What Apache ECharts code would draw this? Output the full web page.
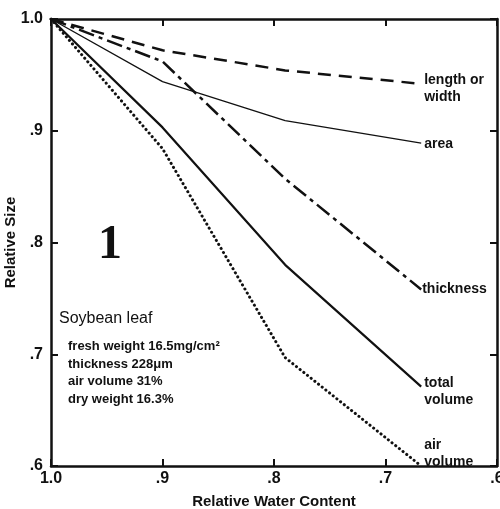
<!DOCTYPE html>
<html>
<head>
<meta charset="utf-8">
<script src="https://cdn.jsdelivr.net/npm/echarts@6/dist/echarts.min.js"></script>
<style>
  html, body { margin: 0; padding: 0; background: #fff; }
  #chart { width: 500px; height: 509px; }
</style>
</head>
<body>
<div id="chart"></div>
<script>
// ── Data ──────────────────────────────────────────────────────────────
const rwc         = [1.0, 0.9, 0.79, 0.668];   // relative water content
const lengthWidth = [1.0, 0.972, 0.954, 0.942];
const area        = [1.0, 0.944, 0.909, 0.889];
const thickness   = [1.0, 0.962, 0.857, 0.758];
const totalVolume = [1.0, 0.903, 0.780, 0.671];
const airVolume   = [1.0, 0.884, 0.697, 0.600];
const notes = ['fresh weight 16.5mg/cm\u00B2', 'thickness 228\u03BCm', 'air volume 31%', 'dry weight 16.3%'];

// ── Style ─────────────────────────────────────────────────────────────
const ink = '#111';
const font = '"Liberation Sans", Arial, sans-serif';
const tickFmt = (v) => (Math.abs(v - 1) < 1e-6 ? '1.0' : '.' + Math.round(v * 10));

const pairs = (ys) => ys.map((y, i) => [rwc[i], y]);

function curve(name, ys, lineStyle, labelOffset) {
  return {
    name, type: 'line', data: pairs(ys),
    symbol: 'none', silent: true,
    lineStyle: Object.assign({ color: ink }, lineStyle),
    endLabel: {
      show: true, formatter: name, distance: 3, offset: labelOffset,
      fontFamily: font, fontSize: 14, fontWeight: 'bold', color: ink,
      lineHeight: 17, align: 'left',
    },
  };
}

const chart = echarts.init(document.getElementById('chart'), null, { renderer: 'canvas' });

const axisBase = {
  type: 'value', min: 0.6, max: 1.0, interval: 0.1,
  axisLine: { show: true, lineStyle: { color: ink, width: 2.5 } },
  axisTick: { show: true, inside: true, length: 7, lineStyle: { color: ink, width: 2 } },
  splitLine: { show: false },
};

chart.setOption({
  animation: false,
  backgroundColor: '#fff',
  grid: { left: 51, right: 3, top: 19, bottom: 43, containLabel: false, outerBoundsMode: 'none' },
  xAxis: [
    Object.assign({}, axisBase, {
      inverse: true, position: 'bottom',
      name: 'Relative Water Content', nameLocation: 'middle', nameGap: 28, nameMoveOverlap: false,
      nameTextStyle: { fontFamily: font, fontSize: 15, fontWeight: 'bold', color: ink },
      axisLabel: { formatter: tickFmt, margin: 5, fontFamily: font, fontSize: 16, fontWeight: 'bold', color: ink },
    }),
    Object.assign({}, axisBase, { inverse: true, position: 'top', axisLabel: { show: false } }),
  ],
  yAxis: [
    Object.assign({}, axisBase, {
      position: 'left',
      name: 'Relative Size', nameLocation: 'middle', nameGap: 33, nameMoveOverlap: false,
      nameTextStyle: { fontFamily: font, fontSize: 15, fontWeight: 'bold', color: ink },
      axisLabel: { formatter: tickFmt, margin: 8, fontFamily: font, fontSize: 16, fontWeight: 'bold', color: ink },
    }),
    Object.assign({}, axisBase, { position: 'right', axisLabel: { show: false } }),
  ],
  series: [
    curve('length or\nwidth', lengthWidth, { width: 2.5, type: [13, 8] }, [6, 5]),
    curve('area', area, { width: 1.3, type: 'solid' }, [6, 1]),
    curve('thickness', thickness, { width: 2.5, type: [16, 5, 4, 5] }, [4, 0]),
    curve('total\nvolume', totalVolume, { width: 2.2, type: 'solid' }, [6, 5]),
    curve('air\nvolume', airVolume, { width: 3, type: [0.1, 4.6], cap: 'round' }, [6, -12]),
  ],
  graphic: [
    { type: 'text', left: 98, top: 222,
      style: { text: '1', font: 'bold 48px "Liberation Serif", "DejaVu Serif", serif', fill: ink } },
    { type: 'text', left: 59, top: 311,
      style: { text: 'Soybean leaf', font: '16px ' + font, fill: ink } },
    { type: 'text', left: 68, top: 338,
      style: { text: notes.join('\n'), font: 'bold 13px ' + font, lineHeight: 17.5, fill: ink } },
  ],
});
</script>
</body>
</html>
